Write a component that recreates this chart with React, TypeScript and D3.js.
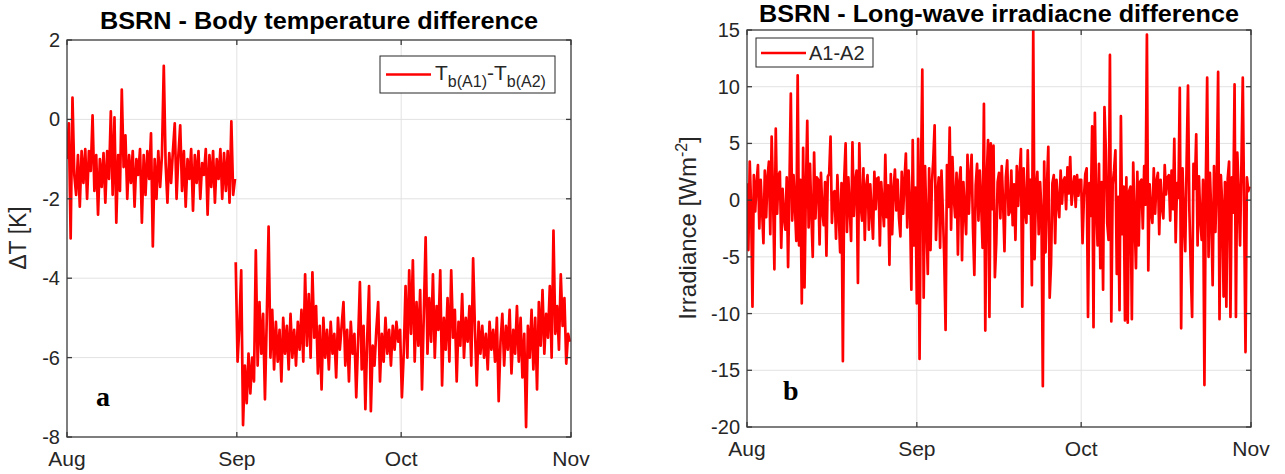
import React, { useEffect, useRef } from 'react';
import * as d3 from 'd3';

// body temperature difference Tb(A1)-Tb(A2) [K], 3 samples per day
// first block: from Aug 1, second block: from day 30.8 (after the gap)
const tbAugStartDay = 0;
const tbAug = [
  -1.0, -0.1, -3.0, 0.55, -1.4, -1.9, -0.9, -2.2, -0.8, -1.6, -0.75, -2.0,
  -0.8, -1.3, 0.1, -1.8, -0.9, -2.4, -1.0, -1.7, -0.85, -2.1, -0.8, -1.5,
  0.2, -1.9, 0.05, -2.6, -0.9, -1.8, 0.75, -1.2, -0.4, -2.0, -0.9, -1.6,
  -0.8, -2.2, -1.0, -1.4, -0.75, -2.6, -0.9, -1.9, -0.8, -1.5, -0.35, -3.2,
  -1.0, -2.0, -0.8, -1.7, -0.9, 1.35, -1.1, -2.1, -0.85, -1.6, -0.8, -0.1,
  -2.0, -0.9, -0.15, -1.8, -0.8, -2.2, -1.0, -1.5, -0.75, -2.3, -0.9, -1.6,
  -0.8, -2.0, -1.1, -1.4, -0.75, -2.4, -0.9, -1.7, -0.8, -2.1, -1.0, -1.5,
  -0.75, -2.0, -0.85, -1.8, -0.8, -2.1, -0.05, -1.9, -1.5,
];

const tbSepStartDay = 30.8;
const tbSep = [
  -3.6, -6.1, -5.2, -3.8, -7.7, -6.2, -7.15, -5.9, -6.9, -6.0, -6.6, -3.3,
  -6.2, -4.6, -5.9, -4.9, -7.05, -5.0, -2.7, -6.0, -4.8, -6.3, -5.1, -6.1,
  -5.3, -6.6, -5.0, -5.9, -5.2, -6.3, -4.9, -6.0, -5.3, -6.2, -5.1, -5.8,
  -4.8, -6.1, -3.9, -5.7, -4.4, -6.0, -3.85, -5.5, -4.7, -6.4, -5.2, -6.8,
  -5.0, -6.0, -5.3, -6.3, -5.1, -5.9, -5.4, -6.5, -5.0, -5.8, -5.2, -4.6,
  -6.2, -5.3, -6.6, -5.1, -5.9, -5.4, -7.0, -5.6, -4.1, -6.3, -5.2, -7.3,
  -5.5, -4.2, -7.35, -5.7, -6.2, -5.3, -4.6, -6.6, -5.4, -6.1, -5.0, -5.9,
  -5.3, -6.2, -5.2, -5.8, -5.1, -5.6, -5.3, -7.0, -5.9, -4.2, -6.0, -3.8,
  -5.4, -3.55, -6.1, -4.6, -5.7, -4.3, -6.8, -4.9, -2.97, -5.9, -4.5, -5.6,
  -3.9, -6.0, -4.7, -5.3, -3.8, -6.7, -5.0, -5.8, -4.5, -6.1, -3.8, -5.5,
  -4.8, -6.6, -5.1, -5.7, -4.4, -6.0, -5.0, -5.6, -4.7, -6.2, -3.5, -5.3,
  -6.7, -5.1, -5.9, -5.2, -6.0, -5.4, -6.3, -5.1, -5.8, -5.3, -6.1, -5.0,
  -7.1, -5.6, -4.9, -6.2, -5.2, -5.8, -4.8, -6.4, -5.3, -5.9, -4.7, -6.1,
  -5.0, -6.5, -5.4, -7.75, -5.2, -6.0, -4.8, -6.3, -5.0, -6.8, -4.6, -5.7,
  -4.3, -5.9, -4.9, -5.5, -4.2, -6.0, -2.8, -5.4, -4.7, -5.8, -3.9, -5.2,
  -4.5, -6.15, -5.4, -5.6,
];

// long-wave irradiance difference A1-A2 [W m-2], 4 samples per day from Aug 1
const lwStartDay = 0;
const lwDiff = [
  1.5, -4.4, 3.4, -0.5, -9.4, 2.2, -1.0, 1.5, 3.1, -2.5, 1.8, -0.8,
  -3.8, 2.6, -1.5, 2.0, 3.4, -3.0, 5.6, 0.5, -6.1, 6.3, -1.2, 2.2,
  2.5, -4.2, 1.0, -1.5, -2.6, 2.0, -5.9, 1.4, 9.4, -1.8, 2.2, -0.6,
  -3.6, 11.0, -4.0, 1.8, -9.1, 4.6, -7.7, 1.0, 7.0, -2.4, 3.2, -1.2,
  -5.0, 4.2, -1.6, 2.0, 1.8, -3.9, 2.4, -0.9, -2.2, 1.6, -4.9, 2.1,
  2.3, 5.6, -2.0, 0.6, 0.8, -3.4, 2.2, -1.1, -4.6, 1.5, -14.2, 1.9,
  5.0, -2.8, 2.0, -0.7, -3.6, 5.1, -1.4, 1.6, 2.6, -7.3, 5.0, -0.4,
  -1.8, 2.8, -3.5, 1.2, 2.2, -2.6, 1.4, -1.0, -3.4, 2.5, -0.8, 1.9,
  2.0, -4.0, 1.6, -0.5, -2.3, 4.0, -1.5, 1.3, -5.7, 2.3, -3.0, 0.9,
  2.7, -0.9, 1.8, -1.6, -3.2, 2.5, -1.2, 1.7, 4.1, -2.4, 2.6, -0.3,
  -7.9, 5.3, -4.0, 1.1, -9.1, 5.4, -14.0, 2.0, 11.5, -8.6, 3.0, -1.8,
  -6.5, 2.8, -4.4, 1.5, 3.5, 6.6, -3.5, 0.4, 2.0, -4.2, 2.6, -1.0,
  -5.0, -11.45, 3.1, -0.6, 6.4, -2.6, 3.8, 0.2, -1.5, 2.4, -4.8, 1.6,
  2.9, -5.3, 1.6, -0.9, -3.0, 4.0, -1.2, 2.1, 4.0, -2.5, -6.6, 1.3,
  3.2, -1.8, 2.6, -0.4, -4.2, 8.5, -11.5, 1.9, 5.3, -10.3, 5.0, -0.8,
  4.8, -6.8, -3.8, 1.6, 2.4, -1.6, 3.0, -0.2, -4.5, 2.0, 3.5, -1.3,
  -1.0, 2.6, -2.2, 1.4, -3.5, 3.0, -0.5, 2.2, 4.5, -9.4, 2.8, -0.7,
  -2.0, 4.4, -1.2, 1.8, -7.5, 15.0, -5.2, 1.0, 2.5, -3.0, 1.6, -0.9,
  -16.4, 3.4, -4.6, 1.2, 4.7, -8.6, -5.6, 1.5, 2.2, -3.8, 1.8, -0.2,
  -1.5, 2.6, -0.3, 1.7, 2.0, -0.8, 2.9, 0.6, 3.8, -0.4, 1.2, 2.1,
  -0.6, 2.2, 0.4, 1.8, 1.8, -3.8, 0.2, 2.3, 2.8, -10.3, 1.5, -1.4,
  6.5, -11.2, 7.7, -0.5, -4.0, 3.2, -6.0, 1.6, -7.9, 8.2, 4.4, -2.0,
  -3.5, 12.8, -10.7, 1.4, 2.6, 4.4, -6.5, 0.3, -9.7, 7.4, -3.0, 1.2,
  -10.6, 2.0, -10.8, 0.8, 1.2, -10.5, 3.3, -1.5, -6.0, 2.5, -4.0, 1.6,
  1.8, -2.5, 3.0, -0.4, 14.6, -6.2, 1.4, -1.0, -2.0, 2.8, -1.2, 1.7,
  2.4, -3.0, 1.8, -0.6, -1.6, 3.1, 0.5, 2.0, 2.2, -1.8, 2.6, -0.8,
  5.4, -3.7, 1.5, 0.2, 9.9, -11.3, 2.8, -1.6, -4.5, 3.4, 10.1, -0.9,
  -6.0, -10.3, 3.2, 1.0, 5.8, -4.0, 2.1, -1.7, -3.5, 1.8, -16.3, 1.4,
  10.8, -5.0, 2.4, -1.2, -7.5, 3.0, -2.8, 1.5, 11.3, -10.5, 2.2, -0.4,
  -8.5, 1.6, -9.4, 1.9, 3.4, -10.3, 2.0, -1.1, 10.2, -10.3, 4.2, 0.6,
  -4.0, 3.1, 10.8, -1.3, -13.4, 2.0, 0.8, 1.2,
];

const monthLabels = ['Aug', 'Sep', 'Oct', 'Nov'];
const tbTicks = [-8, -6, -4, -2, 0, 2];
const lwTicks = [-20, -15, -10, -5, 0, 5, 10, 15];

const T0 = Date.UTC(2016, 7, 1);
const DAY = 864e5;
const monthDates = [0, 1, 2, 3].map(m => new Date(Date.UTC(2016, 7 + m, 1)));

const toSeries = (start: number, perDay: number, vals: number[]) =>
  vals.map((v, i) => ({ t: new Date(T0 + (start + i / perDay) * DAY), v }));

const FONT = '"Liberation Sans", Arial, Helvetica, sans-serif';
const SERIF = '"Liberation Serif", "Times New Roman", serif';
const AXIS = '#3a3a3a';

type Panel = {
  id: string;
  left: number; right: number; top: number; bottom: number;
  yDomain: [number, number];
  yTicks: number[];
  series: { t: Date; v: number }[][];
};

function drawPanel(svg: any, p: Panel) {
  const x = d3.scaleUtc().domain([monthDates[0], monthDates[3]]).range([p.left, p.right]);
  const y = d3.scaleLinear().domain(p.yDomain).range([p.bottom, p.top]);
  const g = svg.append('g');

  // grid
  g.selectAll('.gx').data(monthDates.slice(1, 3)).enter().append('line')
    .attr('x1', d => x(d)).attr('x2', d => x(d))
    .attr('y1', p.top).attr('y2', p.bottom)
    .attr('stroke', '#e2e2e2').attr('stroke-width', 1);
  g.selectAll('.gy').data(p.yTicks.slice(1, -1)).enter().append('line')
    .attr('x1', p.left).attr('x2', p.right)
    .attr('y1', d => y(d)).attr('y2', d => y(d))
    .attr('stroke', '#e2e2e2').attr('stroke-width', 1);

  // data
  svg.append('clipPath').attr('id', `clip-${p.id}`).append('rect')
    .attr('x', p.left).attr('y', p.top)
    .attr('width', p.right - p.left).attr('height', p.bottom - p.top);
  const line = d3.line<{ t: Date; v: number }>().x(d => x(d.t)).y(d => y(d.v));
  p.series.forEach(s => {
    g.append('path').datum(s)
      .attr('d', line)
      .attr('clip-path', `url(#clip-${p.id})`)
      .attr('fill', 'none')
      .attr('stroke', '#ff0000')
      .attr('stroke-width', 2.7)
      .attr('stroke-linejoin', 'round');
  });

  // frame + inward ticks
  g.append('rect')
    .attr('x', p.left).attr('y', p.top)
    .attr('width', p.right - p.left).attr('height', p.bottom - p.top)
    .attr('fill', 'none').attr('stroke', AXIS).attr('stroke-width', 1.3);
  const tl = 5;
  monthDates.forEach(d => {
    g.append('line').attr('x1', x(d)).attr('x2', x(d)).attr('y1', p.bottom).attr('y2', p.bottom - tl)
      .attr('stroke', AXIS).attr('stroke-width', 1.3);
    g.append('line').attr('x1', x(d)).attr('x2', x(d)).attr('y1', p.top).attr('y2', p.top + tl)
      .attr('stroke', AXIS).attr('stroke-width', 1.3);
  });
  p.yTicks.forEach(v => {
    g.append('line').attr('x1', p.left).attr('x2', p.left + tl).attr('y1', y(v)).attr('y2', y(v))
      .attr('stroke', AXIS).attr('stroke-width', 1.3);
    g.append('line').attr('x1', p.right).attr('x2', p.right - tl).attr('y1', y(v)).attr('y2', y(v))
      .attr('stroke', AXIS).attr('stroke-width', 1.3);
  });

  // tick labels
  g.selectAll('.xl').data(monthDates).enter().append('text')
    .attr('x', d => x(d)).attr('y', p.bottom + 29)
    .attr('text-anchor', 'middle')
    .style('font-family', FONT).style('font-size', '21px').style('fill', '#262626')
    .text((d, i) => monthLabels[i]);
  g.selectAll('.yl').data(p.yTicks).enter().append('text')
    .attr('x', p.left - 7).attr('y', d => y(d)).attr('dy', '0.35em')
    .attr('text-anchor', 'end')
    .style('font-family', FONT).style('font-size', '20px').style('fill', '#262626')
    .text(d => String(d));
  return g;
}

const App = () => {
  const svgRef = useRef<SVGSVGElement>(null);

  useEffect(() => {
    const svg = d3.select(svgRef.current);
    svg.selectAll('*').remove();

    // panel a
    const a = drawPanel(svg, {
      id: 'a', left: 67, right: 571, top: 40, bottom: 437,
      yDomain: [-8, 2], yTicks: tbTicks,
      series: [toSeries(tbAugStartDay, 3, tbAug), toSeries(tbSepStartDay, 3, tbSep)],
    });
    a.append('text').attr('x', 319).attr('y', 29).attr('text-anchor', 'middle')
      .attr('textLength', 438).attr('lengthAdjust', 'spacingAndGlyphs')
      .style('font-family', FONT).style('font-size', '24px').style('font-weight', 'bold')
      .text('BSRN - Body temperature difference');
    a.append('text').attr('transform', 'translate(18,238) rotate(-90)')
      .attr('dy', '0.35em').attr('text-anchor', 'middle')
      .style('font-family', FONT).style('font-size', '23px').style('fill', '#262626')
      .text('\u0394T [K]');
    a.append('rect').attr('x', 380).attr('y', 56).attr('width', 175).attr('height', 37)
      .attr('fill', '#fff').attr('stroke', '#262626').attr('stroke-width', 1);
    a.append('line').attr('x1', 386).attr('x2', 431).attr('y1', 74.5).attr('y2', 74.5)
      .attr('stroke', '#ff0000').attr('stroke-width', 2.7);
    const lt = a.append('text').attr('x', 435).attr('y', 80)
      .style('font-family', FONT).style('font-size', '21px').style('fill', '#262626');
    lt.append('tspan').text('T');
    lt.append('tspan').attr('dy', 7).style('font-size', '16px').text('b(A1)');
    lt.append('tspan').attr('dy', -7).text('-T');
    lt.append('tspan').attr('dy', 7).style('font-size', '16px').text('b(A2)');
    a.append('text').attr('x', 96).attr('y', 406)
      .style('font-family', SERIF)
      .style('font-size', '28px').style('font-weight', 'bold').text('a');

    // panel b
    const b = drawPanel(svg, {
      id: 'b', left: 747, right: 1251, top: 30, bottom: 427,
      yDomain: [-20, 15], yTicks: lwTicks,
      series: [toSeries(lwStartDay, 4, lwDiff)],
    });
    b.append('text').attr('x', 999).attr('y', 22).attr('text-anchor', 'middle')
      .attr('textLength', 480).attr('lengthAdjust', 'spacingAndGlyphs')
      .style('font-family', FONT).style('font-size', '24px').style('font-weight', 'bold')
      .text('BSRN - Long-wave irradiacne difference');
    const yl = b.append('text').attr('transform', 'translate(688,228) rotate(-90)')
      .attr('dy', '0.35em').attr('text-anchor', 'middle')
      .style('font-family', FONT).style('font-size', '24px').style('fill', '#262626');
    yl.append('tspan').text('Irradiance [Wm');
    yl.append('tspan').attr('dy', -9).style('font-size', '16px').text('-2');
    yl.append('tspan').attr('dy', 9).text(']');
    b.append('rect').attr('x', 756).attr('y', 38).attr('width', 117).attr('height', 29)
      .attr('fill', '#fff').attr('stroke', '#262626').attr('stroke-width', 1);
    b.append('line').attr('x1', 761).attr('x2', 806).attr('y1', 53).attr('y2', 53)
      .attr('stroke', '#ff0000').attr('stroke-width', 2.7);
    b.append('text').attr('x', 809).attr('y', 60)
      .style('font-family', FONT).style('font-size', '20px').style('fill', '#262626')
      .text('A1-A2');
    b.append('text').attr('x', 783).attr('y', 400)
      .style('font-family', SERIF)
      .style('font-size', '28px').style('font-weight', 'bold').text('b');
  }, []);

  return (
    <svg ref={svgRef} width={1285} height={474}
      style={{ position: 'absolute', left: 0, top: 0, background: '#fff', display: 'block' }} />
  );
};

export default App;
